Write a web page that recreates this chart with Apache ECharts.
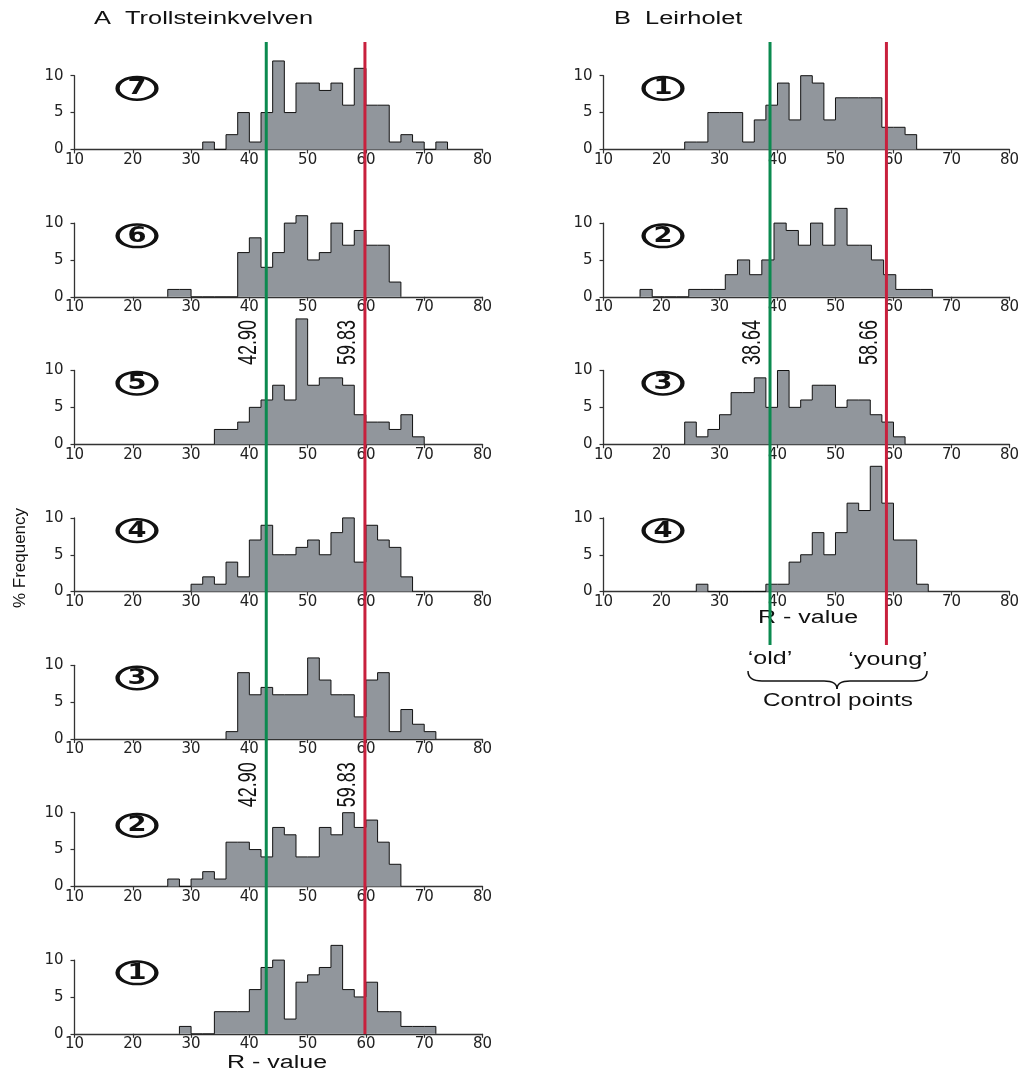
<!DOCTYPE html>
<html>
<head>
<meta charset="utf-8">
<script src="https://cdn.jsdelivr.net/npm/echarts@6/dist/echarts.min.js"></script>
<style>
  html, body { margin: 0; padding: 0; background: #ffffff; }
  #chart { width: 1022px; height: 1073px; }
</style>
</head>
<body>
<div id="chart"></div>
<script>
// Schmidt-hammer R-value distributions (% frequency) at two sites.
// Each histogram: first bin edge, bin width, and frequency per bin.

const xTickValues = [10, 20, 30, 40, 50, 60, 70, 80];
const yTickValues = [0, 5, 10];

// Site A - Trollsteinkvelven, sections 7 (top) .. 1 (bottom)
const sectionsA = ['7', '6', '5', '4', '3', '2', '1'];
const binStartA = [32, 26, 34, 30, 36, 26, 28];
const binWidthA = [2, 2, 2, 2, 2, 2, 2];
const freqA7 = [1, 0, 2, 5, 1, 5, 12, 5, 9, 9, 8, 9, 6, 11, 6, 6, 1, 2, 1, 0, 1];
const freqA6 = [1, 1, 0, 0, 0, 0, 6, 8, 4, 6, 10, 11, 5, 6, 10, 7, 9, 7, 7, 2];
const freqA5 = [2, 2, 3, 5, 6, 8, 6, 17, 8, 9, 9, 8, 4, 3, 3, 2, 4, 1];
const freqA4 = [1, 2, 1, 4, 2, 7, 9, 5, 5, 6, 7, 5, 8, 10, 4, 9, 7, 6, 2];
const freqA3 = [1, 9, 6, 7, 6, 6, 6, 11, 8, 6, 6, 3, 8, 9, 1, 4, 2, 1];
const freqA2 = [1, 0, 1, 2, 1, 6, 6, 5, 4, 8, 7, 4, 4, 8, 7, 10, 8, 9, 6, 3];
const freqA1 = [1, 0, 0, 3, 3, 3, 6, 9, 10, 2, 7, 8, 9, 12, 6, 5, 7, 3, 3, 1, 1, 1];

// Site B - Leirholet, sections 1 (top) .. 4 (bottom)
const sectionsB = ['1', '2', '3', '4'];
const binStartB = [24, 16.3, 24, 26];
const binWidthB = [2, 2.1, 2, 2];
const freqB1 = [1, 1, 5, 5, 5, 1, 4, 6, 9, 4, 10, 9, 4, 7, 7, 7, 7, 3, 3, 2];
const freqB2 = [1, 0, 0, 0, 1, 1, 1, 3, 5, 3, 5, 10, 9, 7, 10, 7, 12, 7, 7, 5, 3, 1, 1, 1];
const freqB3 = [3, 1, 2, 4, 7, 7, 9, 5, 10, 5, 6, 8, 8, 5, 6, 6, 4, 3, 1];
const freqB4 = [1, 0, 0, 0, 0, 0, 1, 1, 4, 5, 8, 5, 8, 12, 11, 17, 12, 7, 7, 1];

// Control points ('old' and 'young' surfaces)
const controlA = [42.90, 59.83];
const controlB = [38.64, 58.66];

const freqA = [freqA7, freqA6, freqA5, freqA4, freqA3, freqA2, freqA1];
const freqB = [freqB1, freqB2, freqB3, freqB4];

// ---- layout ----
const COL_X = [74.5, 603.5];
const COL_W = [408, 407];
const ROW_TOP0 = 75.7;
const ROW_STEP = 147.4;
const ROW_H = 73.7;
const LINE_TOP = 42;
const LINE_BOTTOM = [1034, 645];

const FILL = '#91969c';
const AXIS = '#333333';
const GREEN = '#0b8a4f';
const RED = '#c8203d';
const TICK_FONT = 'DejaVu Sans';
const TEXT_FONT = 'Liberation Sans';

function stepOutline(start, width, freq) {
  const pts = [[start, 0]];
  freq.forEach((f, i) => pts.push([start + i * width, f]));
  pts.push([start + freq.length * width, 0]);
  return pts;
}

const grids = [], xAxes = [], yAxes = [], series = [];
const panels = [];

function addPanel(col, row, label, start, width, freq) {
  const idx = grids.length;
  const top = ROW_TOP0 + row * ROW_STEP;
  grids.push({ left: COL_X[col], top: top, width: COL_W[col], height: ROW_H });
  xAxes.push({
    gridIndex: idx, type: 'value',
    min: xTickValues[0], max: xTickValues[xTickValues.length - 1],
    interval: xTickValues[1] - xTickValues[0],
    axisLine: { show: true, onZero: false, lineStyle: { color: AXIS, width: 1.3 } },
    axisTick: { show: true, length: 4, lineStyle: { color: AXIS, width: 1.2 } },
    axisLabel: { margin: 3, fontSize: 15, fontFamily: TICK_FONT, color: '#222' },
    splitLine: { show: false }
  });
  yAxes.push({
    gridIndex: idx, type: 'value',
    min: yTickValues[0], max: yTickValues[yTickValues.length - 1],
    interval: yTickValues[1] - yTickValues[0],
    axisLine: { show: true, onZero: false, lineStyle: { color: AXIS, width: 1.3 } },
    axisTick: { show: true, length: 4, lineStyle: { color: AXIS, width: 1.2 } },
    axisLabel: { margin: 11, fontSize: 15, fontFamily: TICK_FONT, color: '#222' },
    splitLine: { show: false }
  });
  series.push({
    type: 'line', xAxisIndex: idx, yAxisIndex: idx,
    step: 'end', symbol: 'none', clip: false, silent: true,
    lineStyle: { color: '#111', width: 1 },
    areaStyle: { color: FILL, opacity: 1 },
    data: stepOutline(start, width, freq), z: 2
  });
  panels.push({ col, top, label });
}

sectionsA.forEach((s, i) => addPanel(0, i, s, binStartA[i], binWidthA[i], freqA[i]));
sectionsB.forEach((s, i) => addPanel(1, i, s, binStartB[i], binWidthB[i], freqB[i]));

// full-height overlay grids carrying the control-point lines
const overlay = [];
[controlA, controlB].forEach((vals, col) => {
  const idx = grids.length;
  overlay.push(idx);
  grids.push({ left: COL_X[col], top: LINE_TOP, width: COL_W[col], height: LINE_BOTTOM[col] - LINE_TOP });
  xAxes.push({ gridIndex: idx, type: 'value', show: false,
    min: xTickValues[0], max: xTickValues[xTickValues.length - 1] });
  yAxes.push({ gridIndex: idx, type: 'value', show: false, min: 0, max: 1 });
  [GREEN, RED].forEach((c, k) => {
    series.push({
      type: 'line', xAxisIndex: idx, yAxisIndex: idx, symbol: 'none', silent: true,
      lineStyle: { color: c, width: 3 }, z: 10,
      data: [[vals[k], 0], [vals[k], 1]]
    });
  });
});

const chart = echarts.init(document.getElementById('chart'), null, { renderer: 'canvas' });
chart.setOption({
  animation: false,
  backgroundColor: '#ffffff',
  grid: grids, xAxis: xAxes, yAxis: yAxes, series: series
});

// ---- annotations ----
const g = [];
function text(x, y, str, o) {
  o = o || {};
  g.push({
    type: 'text', x: x, y: y, rotation: o.rot || 0,
    scaleX: o.sx || 1, scaleY: o.sy || 1, z: o.z || 20,
    style: {
      text: str, fill: '#111', textAlign: o.align || 'center', textVerticalAlign: 'middle',
      font: (o.weight || 'normal') + ' ' + (o.size || 18) + 'px "' + (o.family || TEXT_FONT) + '"'
    }
  });
}

// section numbers in ellipses
panels.forEach(p => {
  const cx = COL_X[p.col] + (p.col === 0 ? 62.5 : 59.5);
  const cy = p.top + 12.7;
  g.push({
    type: 'circle', x: cx, y: cy, scaleX: 1.72, z: 20,
    shape: { cx: 0, cy: 0, r: 11.3 },
    style: { fill: 'none', stroke: '#111', lineWidth: 2.5 }
  });
  text(cx, cy + 0.5, p.label, { size: 21, weight: 'bold', family: 'DejaVu Sans', sx: 1.3 });
});

// control-point value labels beside the lines
function valueLabels(vals, col, rows) {
  vals.forEach(v => {
    const px = chart.convertToPixel({ gridIndex: overlay[col] }, [v, 0])[0];
    rows.forEach(r => {
      const cy = ROW_TOP0 + r * ROW_STEP - 28;
      text(px - 17, cy, v.toFixed(2), { size: 26, sx: 0.69, rot: Math.PI / 2 });
    });
  });
}
valueLabels(controlA, 0, [2, 5]);
valueLabels(controlB, 1, [2]);

// titles and axis names
text(94, 19, 'A  Trollsteinkvelven', { size: 17.5, sx: 1.45, align: 'left' });
text(614, 19, 'B  Leirholet', { size: 17.5, sx: 1.45, align: 'left' });
text(20, 558, '% Frequency', { size: 17, rot: Math.PI / 2 });
text(277, 1063, 'R - value', { size: 18, sx: 1.39 });
text(808, 618, 'R - value', { size: 18, sx: 1.39, z: 5 });
text(770, 659, '\u2018old\u2019', { size: 18, sx: 1.39 });
text(888, 660, '\u2018young\u2019', { size: 18, sx: 1.39 });
text(838, 701, 'Control points', { size: 18, sx: 1.35 });

// brace grouping the two control points
const braceStyle = { stroke: '#111', lineWidth: 1.5, fill: 'none' };
g.push({ type: 'bezierCurve', shape: { x1: 748, y1: 671, cpx1: 748, cpy1: 681, x2: 762, y2: 681 }, style: braceStyle });
g.push({ type: 'line', shape: { x1: 762, y1: 681, x2: 824, y2: 681 }, style: braceStyle });
g.push({ type: 'bezierCurve', shape: { x1: 824, y1: 681, cpx1: 837, cpy1: 681, x2: 837, y2: 689 }, style: braceStyle });
g.push({ type: 'bezierCurve', shape: { x1: 837, y1: 689, cpx1: 837, cpy1: 681, x2: 850, y2: 681 }, style: braceStyle });
g.push({ type: 'line', shape: { x1: 850, y1: 681, x2: 913, y2: 681 }, style: braceStyle });
g.push({ type: 'bezierCurve', shape: { x1: 913, y1: 681, cpx1: 927, cpy1: 681, x2: 927, y2: 671 }, style: braceStyle });

chart.setOption({ graphic: { elements: g } });
</script>
</body>
</html>
